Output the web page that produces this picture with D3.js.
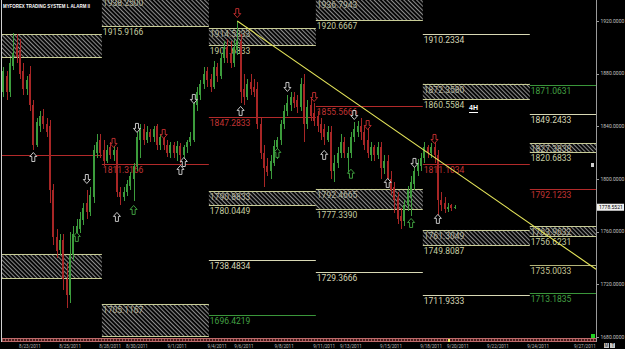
<!DOCTYPE html>
<html><head><meta charset="utf-8">
<script src="https://cdn.jsdelivr.net/npm/d3@7"></script>
<style>html,body{margin:0;padding:0;background:#000;overflow:hidden}</style>
</head><body>
<svg id="c" width="625" height="349"></svg>
<script>
// ---------------- DATA ----------------
const title = "MYFOREX TRADING SYSTEM L ALARM II";
const timeframe = "4H";
const firstDay = "8/21/2011", lastDataDay = "9/19/2011", lastAxisDay = "9/28/2011";
// 4H candles, one per bar from 8/21/2011
const opens  = [1866,1878,1866,1886,1902,1898,1882,1868,1880,1856,1826,1840,1848,1842,1840,1792,1756,1746,1754,1724,1712,1742,1758,1762,1769,1782,1775,1786,1820,1830,1822,1814,1824,1818,1822,1790,1786,1790,1795,1800,1810,1830,1838,1830,1836,1832,1840,1826,1834,1826,1820,1826,1820,1825,1818,1824,1828,1830,1856,1864,1872,1882,1876,1870,1885,1878,1892,1900,1895,1888,1898,1905,1868,1862,1874,1870,1868,1842,1820,1810,1806,1812,1824,1830,1842,1852,1856,1862,1860,1855,1872,1842,1856,1850,1848,1842,1838,1830,1836,1806,1812,1820,1828,1816,1820,1832,1836,1840,1836,1830,1818,1824,1818,1824,1808,1814,1800,1794,1786,1772,1768,1780,1786,1796,1806,1810,1816,1824,1820,1824,1818,1784,1782,1777,1780,1778];
const highs  = [1885,1882,1892,1911,1910,1906,1888,1878,1886,1860,1846,1852,1853,1846,1845,1796,1762,1758,1758,1736,1760,1764,1770,1775,1782,1792,1794,1826,1834,1834,1830,1826,1828,1825,1824,1794,1794,1799,1805,1812,1836,1842,1842,1840,1838,1840,1842,1834,1836,1830,1828,1828,1829,1827,1826,1830,1836,1860,1870,1875,1885,1885,1880,1890,1888,1896,1905,1906,1905,1906,1920,1910,1880,1876,1880,1876,1874,1846,1826,1816,1818,1830,1832,1845,1856,1864,1866,1866,1864,1877,1880,1860,1862,1858,1852,1846,1842,1840,1840,1818,1824,1834,1832,1824,1836,1843,1844,1846,1840,1838,1828,1826,1828,1828,1818,1818,1806,1798,1790,1778,1784,1795,1802,1810,1815,1820,1828,1826,1827,1828,1822,1790,1786,1782,1781,1780];
const lows   = [1862,1860,1862,1883,1888,1876,1864,1864,1852,1822,1824,1836,1838,1832,1782,1750,1740,1742,1716,1702,1706,1738,1756,1759,1765,1770,1772,1782,1816,1816,1810,1812,1815,1814,1786,1780,1783,1787,1792,1783,1806,1816,1826,1827,1828,1828,1822,1822,1822,1817,1816,1816,1814,1812,1815,1820,1825,1828,1852,1860,1868,1870,1866,1868,1874,1876,1888,1888,1884,1885,1894,1858,1856,1860,1864,1862,1838,1815,1794,1802,1800,1810,1815,1826,1838,1848,1852,1854,1850,1852,1828,1838,1844,1840,1836,1830,1826,1828,1800,1798,1808,1816,1816,1804,1816,1828,1832,1830,1822,1816,1814,1814,1815,1800,1804,1794,1788,1774,1766,1762,1764,1776,1772,1792,1802,1806,1812,1816,1816,1812,1773,1776,1774,1775,1776,1777];
const closes = [1882,1866,1888,1896,1893,1880,1868,1875,1856,1826,1843,1848,1842,1836,1792,1756,1745,1754,1724,1712,1742,1758,1764,1770,1778,1775,1788,1822,1828,1820,1814,1822,1818,1822,1790,1786,1790,1796,1802,1810,1832,1838,1830,1836,1832,1838,1826,1832,1826,1820,1826,1820,1825,1818,1824,1828,1832,1858,1866,1872,1880,1875,1870,1885,1878,1892,1900,1892,1888,1900,1905,1866,1862,1872,1868,1866,1842,1820,1808,1805,1814,1825,1830,1842,1852,1858,1862,1858,1855,1872,1842,1855,1848,1844,1840,1835,1832,1836,1806,1812,1820,1828,1820,1820,1832,1838,1840,1836,1826,1820,1824,1818,1824,1808,1814,1800,1792,1784,1770,1768,1780,1792,1798,1806,1812,1816,1824,1820,1824,1818,1784,1780,1777,1779,1778,1778.5521];
const lastPrice = 1778.5521;
const priceTicks = [1920,1880,1840,1800,1760,1720,1680];
const dateTicks = ["8/23/2011","8/25/2011","8/28/2011","8/30/2011","9/1/2011","9/4/2011","9/6/2011","9/8/2011","9/11/2011","9/13/2011","9/15/2011","9/18/2011","9/20/2011","9/22/2011","9/24/2011","9/27/2011"];
// weekly pivot periods (start bar)
const periodStarts = [-2.5, 29.5, 61.5, 93.5, 125.5, 157.5, 189.5];
// hatched zones: [period, top, bottom, topLabel, bottomLabel]
const zones = [
  [0, 1910.1, 1892.7, "", ""],
  [0, 1743.1, 1724.9, "", ""],
  [1, 1938.2, 1915.9166, "1938.2500", "1915.9166"],
  [1, 1705.1167, 1680.8, "1705.1167", "1680.7833"],
  [2, 1914.5833, 1901.6833, "1914.5833", "1901.6833"],
  [2, 1790.8833, 1780.0449, "1790.8833", "1780.0449"],
  [3, 1936.7943, 1920.6667, "1936.7943", "1920.6667"],
  [3, 1792.4665, 1777.3390, "1792.4665", "1777.3390"],
  [4, 1872.3580, 1860.5584, "1872.3580", "1860.5584"],
  [4, 1761.3049, 1749.8087, "1761.3049", "1749.8087"],
  [5, 1827.3838, 1820.6833, "1827.3838", "1820.6833"],
  [5, 1763.9632, 1756.6231, "1763.9632", "1756.6231"]
];
// single levels: [period, price, label, kind]
const levels = [
  [0, 1818.3, "", "red"],
  [1, 1811.3166, "1811.3166", "red"],
  [2, 1847.2833, "1847.2833", "red"],
  [2, 1738.4834, "1738.4834", "cream"],
  [2, 1696.4219, "1696.4219", "green"],
  [3, 1855.5666, "1855.5666", "red"],
  [3, 1729.3666, "1729.3666", "cream"],
  [4, 1910.2334, "1910.2334", "cream"],
  [4, 1811.1034, "1811.1034", "red"],
  [4, 1711.9333, "1711.9333", "cream"],
  [5, 1871.0631, "1871.0631", "green"],
  [5, 1849.2433, "1849.2433", "cream"],
  [5, 1792.1233, "1792.1233", "red"],
  [5, 1735.0033, "1735.0033", "olive"],
  [5, 1713.1835, "1713.1835", "green"]
];
// signal arrows: [bar, price, colour]
const downSignals = [[25,1800,"w"],[33,1827.4,"r"],[40,1838.8,"w"],[48,1834.2,"r"],[57,1860.8,"w"],[70,1926,"r"],[85,1869.9,"w"],[93,1862.3,"r"],[105,1848.6,"w"],[109,1841,"r"],[123,1812.2,"w"],[129,1830.4,"r"]];
const upSignals = [[9,1816.7,"w"],[22,1756,"g"],[34,1771.2,"w"],[39,1776.5,"g"],[53,1806.9,"w"],[54,1812.9,"w"],[71,1851.7,"w"],[82,1819.8,"g"],[96,1818.3,"w"],[104,1804,"g"],[115,1797,"w"],[122,1766.6,"g"],[130,1769.7,"w"]];
const trendLine = [[70, 1920], [177.3, 1731.5]];

// ---------------- CALENDAR ----------------
const parseD = d3.timeParse("%m/%d/%Y");
const fmtD = d => `${d.getMonth()+1}/${d.getDate()}/${d.getFullYear()}`;
const dayIndex = new Map();
{
  let n = 0; const last = parseD(lastDataDay);
  for (let d = parseD(firstDay); d <= parseD(lastAxisDay); d = d3.timeDay.offset(d, 1)) {
    const wd = d.getDay(), future = d > last;
    dayIndex.set(fmtD(d), n);
    n += wd === 0 ? 2 : (wd === 6 ? (future ? 6 : 0) : 6);
  }
}

// ---------------- SCALES ----------------
const x = d3.scaleLinear().domain([0, 177.3]).range([3.25, 596]);
const y = d3.scaleLinear().domain([1680, 1920]).range([337, 21]);
const col = {red:"#b22a2a", cream:"#d8d8b4", green:"#3a963a", olive:"#b4b478", w:"#d8d8d8", r:"#cc3030", g:"#44aa44"};
const labelCol = {red:"#c03434", cream:"#d4d4b4", green:"#44a044", olive:"#c4c494"};

const svg = d3.select("#c");
svg.append("rect").attr("width",625).attr("height",349).attr("fill","#000");
const defs = svg.append("defs");
const pat = defs.append("pattern").attr("id","hatch").attr("width",3).attr("height",3)
  .attr("patternUnits","userSpaceOnUse").attr("patternTransform","rotate(-45)");
pat.append("rect").attr("width",3).attr("height",3).attr("fill","#000");
pat.append("rect").attr("width",1.1).attr("height",3).attr("fill","#8c8c8c");
defs.append("clipPath").attr("id","plot").append("rect").attr("x",2).attr("y",0).attr("width",594).attr("height",338);

const plot = svg.append("g").attr("clip-path","url(#plot)");
const lab = {"font-family":"Roboto, 'DejaVu Sans', sans-serif","font-size":"8.5px"};
const LBL = 8.5; // label baseline offset below its line

// zones
zones.forEach(([p, top, bot, tl, bl]) => {
  const x0 = x(periodStarts[p]), x1 = x(periodStarts[p+1]);
  plot.append("rect").attr("x",x0).attr("y",y(top)).attr("width",x1-x0).attr("height",y(bot)-y(top)).attr("fill","url(#hatch)");
  [top, bot].forEach(v => plot.append("line").attr("x1",x0).attr("x2",x1).attr("y1",Math.round(y(v))+0.5).attr("y2",Math.round(y(v))+0.5)
    .attr("stroke","#c8cc96").attr("stroke-width",1));
  [[top,tl,"#b4b49c"],[bot,bl,"#c4cca0"]].forEach(([v,t,c]) => { if (t) plot.append("text").attr("x",x0+1).attr("y",Math.round(y(v))+LBL)
    .attr("fill",c).attr("font-family",lab["font-family"]).attr("font-size",lab["font-size"]).text(t); });
});
// levels
levels.forEach(([p, v, t, k]) => {
  const x0 = x(periodStarts[p]), x1 = x(periodStarts[p+1]);
  plot.append("line").attr("x1",x0).attr("x2",x1).attr("y1",Math.round(y(v))+0.5).attr("y2",Math.round(y(v))+0.5).attr("stroke",col[k]).attr("stroke-width",1);
  if (t) plot.append("text").attr("x",x0+1).attr("y",Math.round(y(v))+LBL).attr("fill",labelCol[k])
    .attr("font-family",lab["font-family"]).attr("font-size",lab["font-size"]).text(t);
});

// candles
const cg = plot.append("g").attr("shape-rendering","crispEdges");
opens.forEach((o, i) => {
  const c = closes[i], up = c >= o, cx = Math.round(x(i));
  const clr = up ? "#3c9c3c" : "#a82626";
  cg.append("rect").attr("x",cx).attr("width",1).attr("y",y(highs[i])).attr("height",Math.max(1,y(lows[i])-y(highs[i]))).attr("fill",clr);
  const yt = y(Math.max(o,c)), yb = y(Math.min(o,c));
  cg.append("rect").attr("x",cx-1).attr("width",2).attr("y",yt).attr("height",Math.max(1,yb-yt)).attr("fill",clr);
});

// trend line
plot.append("line").attr("x1",x(trendLine[0][0])).attr("y1",y(trendLine[0][1]))
  .attr("x2",x(trendLine[1][0])).attr("y2",y(trendLine[1][1])).attr("stroke","#e6e65a").attr("stroke-width",1.1);

// arrows
const upPath = "M0,-4.5L3.5,-0.5L1.5,-0.5L1.5,4.5L-1.5,4.5L-1.5,-0.5L-3.5,-0.5Z";
const ag = plot.append("g");
upSignals.forEach(([b, v, c]) => ag.append("path").attr("d",upPath).attr("transform",`translate(${x(b)},${y(v)})`)
  .attr("fill","#000").attr("stroke",col[c]).attr("stroke-width",0.9));
downSignals.forEach(([b, v, c]) => ag.append("path").attr("d",upPath).attr("transform",`translate(${x(b)},${y(v)}) scale(1,-1)`)
  .attr("fill","#000").attr("stroke",col[c]).attr("stroke-width",0.9));

// timeframe tag
svg.append("text").attr("x",469).attr("y",110).attr("fill","#fff").attr("font-family","Liberation Sans, Arial, sans-serif")
  .attr("font-weight","bold").attr("font-size","7px").text(timeframe);
svg.append("line").attr("x1",469).attr("x2",478).attr("y1",112.5).attr("y2",112.5).attr("stroke","#fff").attr("stroke-width",1);

// title
svg.append("text").attr("x",3).attr("y",8).attr("fill","#fff").attr("font-family","Liberation Sans, Arial, sans-serif")
  .attr("font-weight","bold").attr("font-size","5.5px").attr("textLength",87).attr("lengthAdjust","spacingAndGlyphs").text(title);

// frame lines
svg.append("line").attr("x1",1.5).attr("x2",1.5).attr("y1",0).attr("y2",342).attr("stroke","#d0d0d0");
svg.append("line").attr("x1",596.5).attr("x2",596.5).attr("y1",0).attr("y2",342).attr("stroke","#9a9a9a");

// bottom strip
svg.append("rect").attr("x",2).attr("y",338).attr("width",594).attr("height",4).attr("fill","#4a1818");
svg.append("line").attr("x1",2).attr("x2",596).attr("y1",338.5).attr("y2",338.5).attr("stroke","#c06a6a");
svg.append("line").attr("x1",2).attr("x2",596).attr("y1",341.5).attr("y2",341.5).attr("stroke","#c06a6a");
svg.append("line").attr("x1",2).attr("x2",596).attr("y1",340).attr("y2",340).attr("stroke","#e4a8a8").attr("stroke-dasharray","1,2");
svg.append("rect").attr("x",448).attr("y",339).attr("width",2).attr("height",3).attr("fill","#f0f060");

// date axis labels
svg.append("g").selectAll("text").data(dateTicks).join("text")
  .attr("x", d => x(dayIndex.get(d))).attr("y",348).attr("text-anchor","middle")
  .attr("fill","#b8b8b8").attr("font-family","Roboto, sans-serif").attr("font-size","4.6px").text(d => d);

// price axis
const pa = svg.append("g");
priceTicks.forEach(v => {
  pa.append("line").attr("x1",596).attr("x2",599).attr("y1",Math.round(y(v))+0.5).attr("y2",Math.round(y(v))+0.5).attr("stroke","#9a9a9a");
  pa.append("text").attr("x",600.5).attr("y",y(v)+1.8).attr("fill","#c0c0c0").attr("font-family","Roboto, sans-serif")
    .attr("font-size","5px").text(d3.format(".4f")(v));
});
// last price box
pa.append("rect").attr("x",597).attr("y",y(lastPrice)-3.5).attr("width",27).attr("height",7).attr("fill","#f0f0f0");
pa.append("text").attr("x",599).attr("y",y(lastPrice)+1.8).attr("fill","#000").attr("font-family","Roboto, sans-serif")
  .attr("font-size","5px").text(d3.format(".4f")(lastPrice));
// small markers
svg.append("rect").attr("x",591).attr("y",163).attr("width",3).attr("height",4).attr("fill","#cfcfcf");
svg.append("rect").attr("x",591).attr("y",334).attr("width",4).attr("height",4).attr("fill","#22d022");
svg.append("rect").attr("x",604).attr("y",343).attr("width",5).attr("height",5).attr("fill","#c8c8c8");
svg.append("rect").attr("x",610).attr("y",343).attr("width",5).attr("height",5).attr("fill","#c8c8c8");
svg.append("text").attr("x",604.6).attr("y",347.4).attr("fill","#222").attr("font-family","Liberation Sans, sans-serif").attr("font-size","4.5px").text("M");
svg.append("text").attr("x",611.6).attr("y",347.4).attr("fill","#222").attr("font-family","Liberation Sans, sans-serif").attr("font-size","4.5px").text("T");
</script>
</body></html>
